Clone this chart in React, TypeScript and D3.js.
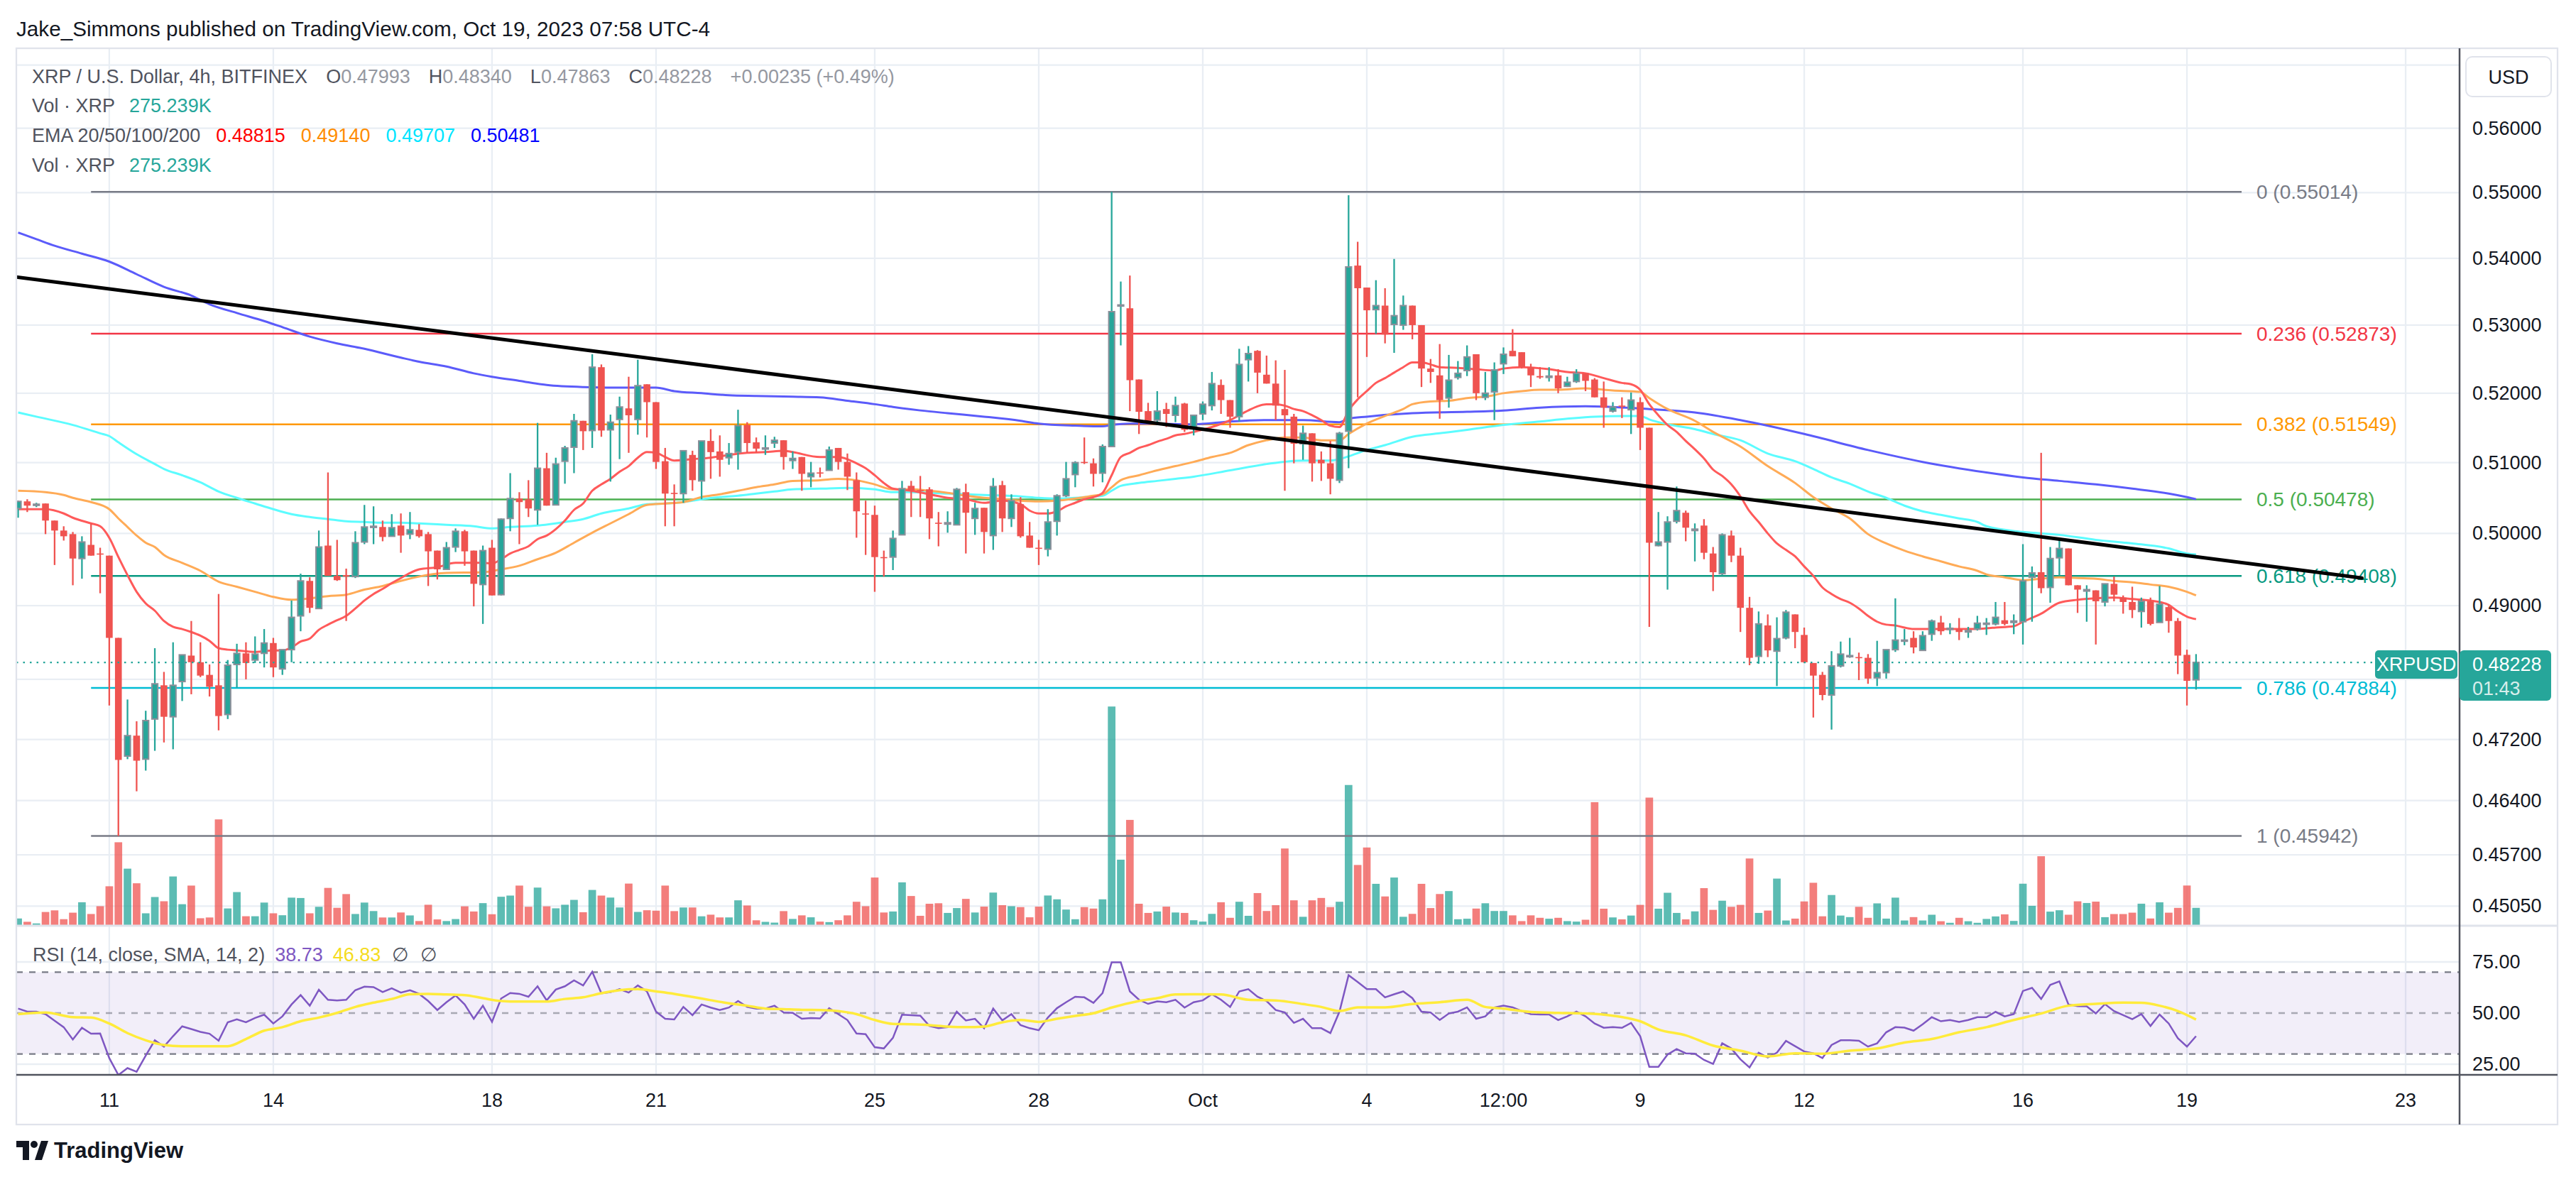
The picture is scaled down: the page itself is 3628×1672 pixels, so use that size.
import * as d3 from 'd3';
import React, { useEffect, useRef } from 'react';

// 4h bars. Bar index 0 = Sep 11 2023 00:00, the first visible bar is index -10.
const firstBar = -10;

const opens = [
  0.5035, 0.5045, 0.504, 0.5042, 0.5018, 0.5004, 0.4999, 0.4965, 0.4984, 0.4972,
  0.4969, 0.4856, 0.4698, 0.4725, 0.4694, 0.4747, 0.4792, 0.475, 0.4797, 0.4832,
  0.4823, 0.4806, 0.4792, 0.4753, 0.482, 0.4835, 0.4826, 0.4835, 0.4849, 0.4814,
  0.484, 0.4886, 0.4934, 0.4896, 0.4983, 0.4941, 0.4942, 0.494, 0.4988, 0.5009,
  0.5009, 0.4996, 0.5011, 0.4999, 0.5005, 0.4999, 0.4976, 0.495, 0.4981, 0.5003,
  0.4976, 0.4929, 0.498, 0.4915, 0.5021, 0.5049, 0.5048, 0.5033, 0.5092, 0.504,
  0.5102, 0.5122, 0.516, 0.5146, 0.5238, 0.5147, 0.5162, 0.5178, 0.5162, 0.5213,
  0.5187, 0.5102, 0.5057, 0.5056, 0.5111, 0.5074, 0.5131, 0.5116, 0.5107, 0.5115,
  0.5154, 0.5129, 0.512, 0.5128, 0.5132, 0.5103, 0.5108, 0.508, 0.5086, 0.5089,
  0.5121, 0.5101, 0.5075, 0.5028, 0.5026, 0.4967, 0.4967, 0.4998, 0.5067, 0.5061,
  0.5062, 0.5015, 0.5013, 0.5012, 0.5058, 0.5021, 0.5036, 0.4997, 0.5068, 0.5021,
  0.5041, 0.4997, 0.498, 0.4978, 0.5017, 0.5053, 0.5083, 0.5101, 0.5099, 0.5085,
  0.5123, 0.5329, 0.5325, 0.522, 0.5174, 0.5161, 0.5177, 0.5168, 0.5185, 0.5149,
  0.517, 0.5182, 0.5212, 0.519, 0.5166, 0.5249, 0.5262, 0.5227, 0.5214, 0.5177,
  0.5166, 0.5127, 0.5142, 0.5104, 0.5099, 0.5075, 0.5145, 0.5389, 0.5356, 0.5323,
  0.5329, 0.5301, 0.53, 0.5329, 0.53, 0.5236, 0.5226, 0.5193, 0.5223, 0.5233,
  0.5257, 0.5194, 0.5202, 0.5243, 0.5262, 0.526, 0.5238, 0.5225, 0.5223, 0.5226,
  0.521, 0.5217, 0.5229, 0.522, 0.5194, 0.5174, 0.5182, 0.5176, 0.5187, 0.515,
  0.4983, 0.4988, 0.5017, 0.5029, 0.5004, 0.5011, 0.4972, 0.4944, 0.4997, 0.4969,
  0.4897, 0.4831, 0.4873, 0.4838, 0.4856, 0.4888, 0.486, 0.4822, 0.4806, 0.4779,
  0.4818, 0.4831, 0.483, 0.4829, 0.4802, 0.4809, 0.484, 0.4852, 0.4856, 0.4839,
  0.4861, 0.4877, 0.4868, 0.4868, 0.4864, 0.4868, 0.4875, 0.4875, 0.488, 0.4877,
  0.4878, 0.4939, 0.4946, 0.4925, 0.4966, 0.4979, 0.4928, 0.492, 0.4921, 0.4905,
  0.493, 0.4911, 0.4905, 0.4892, 0.4906, 0.4877, 0.4898, 0.4879, 0.4833, 0.47993,
];

const highs = [
  0.5046, 0.5048, 0.5043, 0.5042, 0.5018, 0.501, 0.5002, 0.4996, 0.5014, 0.498,
  0.4969, 0.4856, 0.4773, 0.4744, 0.4758, 0.4842, 0.481, 0.485, 0.4833, 0.4879,
  0.485, 0.482, 0.4916, 0.4826, 0.4848, 0.485, 0.4858, 0.4868, 0.4856, 0.484,
  0.4907, 0.4944, 0.4939, 0.5004, 0.5086, 0.4991, 0.4951, 0.5003, 0.504, 0.5038,
  0.5018, 0.5027, 0.5028, 0.503, 0.5013, 0.5002, 0.4976, 0.4988, 0.5007, 0.5005,
  0.4976, 0.4983, 0.4991, 0.5021, 0.5085, 0.5058, 0.5075, 0.5157, 0.5114, 0.5107,
  0.5124, 0.517, 0.516, 0.5257, 0.5242, 0.5169, 0.5195, 0.5224, 0.5249, 0.5213,
  0.5187, 0.5121, 0.5069, 0.5117, 0.5117, 0.5131, 0.5148, 0.5139, 0.5128, 0.5176,
  0.5158, 0.5136, 0.5139, 0.5137, 0.5132, 0.5116, 0.5108, 0.5101, 0.5093, 0.5123,
  0.5121, 0.5113, 0.5086, 0.5046, 0.5039, 0.4976, 0.5004, 0.5074, 0.5074, 0.5081,
  0.5065, 0.503, 0.5031, 0.5064, 0.507, 0.5043, 0.5036, 0.5078, 0.5074, 0.5055,
  0.5051, 0.5016, 0.4991, 0.5034, 0.5055, 0.5101, 0.5102, 0.5136, 0.5106, 0.5126,
  0.55014, 0.5365, 0.5374, 0.522, 0.5186, 0.5203, 0.5186, 0.5195, 0.5186, 0.5168,
  0.5188, 0.5231, 0.522, 0.519, 0.5265, 0.5269, 0.5263, 0.5255, 0.5248, 0.5234,
  0.517, 0.5153, 0.5142, 0.5116, 0.5131, 0.5144, 0.5496, 0.5425, 0.5356, 0.5367,
  0.5355, 0.5399, 0.5344, 0.5329, 0.53, 0.525, 0.5272, 0.5256, 0.5247, 0.527,
  0.5257, 0.5231, 0.5245, 0.5267, 0.5294, 0.526, 0.5243, 0.5238, 0.5238, 0.5235,
  0.5224, 0.5235, 0.5229, 0.5222, 0.5217, 0.5187, 0.5194, 0.5201, 0.5194, 0.515,
  0.503, 0.5024, 0.5066, 0.5032, 0.5014, 0.502, 0.4981, 0.5, 0.5004, 0.498,
  0.4912, 0.4892, 0.4888, 0.4884, 0.4894, 0.4888, 0.487, 0.4822, 0.481, 0.4838,
  0.4851, 0.4856, 0.4836, 0.4834, 0.4852, 0.484, 0.491, 0.4868, 0.4865, 0.4865,
  0.4881, 0.4886, 0.4876, 0.4883, 0.4871, 0.4886, 0.4883, 0.4905, 0.4905, 0.4888,
  0.4985, 0.4954, 0.5114, 0.4981, 0.4992, 0.4979, 0.4928, 0.4928, 0.4921, 0.493,
  0.494, 0.4914, 0.4926, 0.4911, 0.4911, 0.4927, 0.4902, 0.4883, 0.484, 0.4834,
];

const lows = [
  0.5022, 0.503, 0.5037, 0.4999, 0.4956, 0.499, 0.4928, 0.4937, 0.4969, 0.4917,
  0.4765, 0.45942, 0.4694, 0.4652, 0.4679, 0.4705, 0.4716, 0.4707, 0.4771, 0.478,
  0.4803, 0.4777, 0.4732, 0.4747, 0.4789, 0.48, 0.4822, 0.4816, 0.4803, 0.4806,
  0.4823, 0.4865, 0.489, 0.4896, 0.4941, 0.4934, 0.4879, 0.4938, 0.4985, 0.4985,
  0.4989, 0.4996, 0.4973, 0.4992, 0.4994, 0.4927, 0.4936, 0.495, 0.4974, 0.4955,
  0.4899, 0.4875, 0.4914, 0.4914, 0.5003, 0.4985, 0.5023, 0.5012, 0.5039, 0.504,
  0.507, 0.5085, 0.5118, 0.5121, 0.5137, 0.5073, 0.5105, 0.5114, 0.514, 0.5136,
  0.5091, 0.501, 0.501, 0.5043, 0.506, 0.5048, 0.5077, 0.508, 0.5097, 0.509,
  0.5114, 0.5114, 0.5111, 0.5121, 0.509, 0.5091, 0.506, 0.5065, 0.5079, 0.5089,
  0.509, 0.5061, 0.4994, 0.497, 0.4919, 0.494, 0.4949, 0.4998, 0.5023, 0.5023,
  0.4992, 0.4982, 0.5001, 0.5012, 0.4972, 0.4998, 0.4972, 0.4977, 0.5002, 0.5009,
  0.4994, 0.498, 0.4956, 0.4968, 0.4997, 0.5051, 0.5065, 0.5098, 0.5066, 0.5072,
  0.5123, 0.527, 0.5174, 0.5141, 0.5157, 0.5154, 0.5151, 0.5158, 0.5144, 0.5139,
  0.5161, 0.5175, 0.517, 0.515, 0.5159, 0.5217, 0.52, 0.5214, 0.5161, 0.506,
  0.5099, 0.5104, 0.5073, 0.5074, 0.5055, 0.5071, 0.5092, 0.5194, 0.5253, 0.5287,
  0.5273, 0.5259, 0.5293, 0.5279, 0.5209, 0.5215, 0.5163, 0.5179, 0.522, 0.5225,
  0.519, 0.519, 0.5161, 0.5228, 0.5254, 0.5236, 0.5209, 0.5221, 0.5217, 0.52,
  0.5209, 0.5215, 0.5203, 0.5194, 0.515, 0.5172, 0.5164, 0.5141, 0.5118, 0.4871,
  0.4982, 0.4922, 0.5014, 0.4989, 0.4961, 0.4964, 0.492, 0.4941, 0.496, 0.4864,
  0.4819, 0.4821, 0.483, 0.4791, 0.4854, 0.4842, 0.4822, 0.4749, 0.4772, 0.4733,
  0.4816, 0.4829, 0.4799, 0.4794, 0.4791, 0.4801, 0.4837, 0.4846, 0.4835, 0.4839,
  0.4852, 0.486, 0.4861, 0.4853, 0.4856, 0.4866, 0.486, 0.4873, 0.4873, 0.4861,
  0.4847, 0.4878, 0.4917, 0.4904, 0.4941, 0.4928, 0.489, 0.4878, 0.4847, 0.4899,
  0.4906, 0.4889, 0.4883, 0.487, 0.4873, 0.4877, 0.4863, 0.4807, 0.4765, 0.47863,
];

const closes = [
  0.5045, 0.5039, 0.5041, 0.5018, 0.5004, 0.4996, 0.4965, 0.4988, 0.4969, 0.4971,
  0.4856, 0.4693, 0.4725, 0.4692, 0.4745, 0.4794, 0.475, 0.4792, 0.4833, 0.4823,
  0.4805, 0.479, 0.4751, 0.4819, 0.4835, 0.4822, 0.4834, 0.4849, 0.4816, 0.484,
  0.4884, 0.4934, 0.4897, 0.4981, 0.4941, 0.4935, 0.494, 0.4987, 0.5009, 0.501,
  0.4995, 0.5008, 0.4997, 0.5005, 0.4996, 0.4975, 0.495, 0.498, 0.5003, 0.4975,
  0.493, 0.4976, 0.4914, 0.502, 0.5049, 0.5044, 0.5035, 0.5092, 0.5039, 0.5098,
  0.5121, 0.516, 0.5145, 0.5238, 0.5146, 0.5158, 0.518, 0.5168, 0.5211, 0.5187,
  0.5101, 0.5056, 0.5056, 0.5117, 0.5075, 0.5131, 0.5115, 0.5104, 0.5113, 0.5153,
  0.5128, 0.512, 0.5121, 0.5132, 0.5108, 0.5106, 0.5084, 0.5085, 0.5085, 0.5118,
  0.5101, 0.508, 0.5031, 0.5027, 0.4967, 0.4966, 0.4993, 0.5063, 0.506, 0.506,
  0.5021, 0.5014, 0.5015, 0.5062, 0.5029, 0.5035, 0.5002, 0.5066, 0.5021, 0.5046,
  0.4996, 0.498, 0.4979, 0.5016, 0.5053, 0.5077, 0.51, 0.51, 0.5084, 0.5123,
  0.532, 0.533, 0.5219, 0.5173, 0.516, 0.5174, 0.517, 0.5182, 0.5147, 0.5168,
  0.5184, 0.5214, 0.519, 0.5166, 0.5242, 0.5258, 0.523, 0.5214, 0.5182, 0.5168,
  0.5127, 0.5142, 0.5099, 0.5099, 0.5077, 0.5142, 0.5387, 0.5355, 0.5322, 0.5329,
  0.5286, 0.5314, 0.5329, 0.53, 0.5236, 0.5231, 0.519, 0.5219, 0.5229, 0.5253,
  0.52, 0.52, 0.5234, 0.5257, 0.5254, 0.5238, 0.5226, 0.5223, 0.5225, 0.5207,
  0.5216, 0.5229, 0.5218, 0.5194, 0.5179, 0.518, 0.5181, 0.519, 0.515, 0.4987,
  0.4988, 0.5016, 0.5032, 0.5008, 0.5006, 0.4973, 0.4946, 0.4998, 0.4969, 0.4897,
  0.4829, 0.4875, 0.4839, 0.4855, 0.4891, 0.4864, 0.4823, 0.4805, 0.4779, 0.4818,
  0.4834, 0.4832, 0.4829, 0.4801, 0.4809, 0.484, 0.4853, 0.4853, 0.4843, 0.4859,
  0.4879, 0.4865, 0.4869, 0.4864, 0.4866, 0.4876, 0.4876, 0.4884, 0.4875, 0.4879,
  0.4934, 0.4945, 0.4924, 0.4965, 0.4979, 0.4928, 0.4922, 0.4922, 0.4906, 0.493,
  0.4915, 0.4905, 0.4894, 0.4906, 0.4875, 0.4902, 0.4879, 0.4832, 0.4798, 0.48228,
];

// volume in thousands of XRP
const volumes = [
  105, 52, 26, 209, 235, 94, 198, 365, 177, 302,
  621, 1326, 903, 669, 188, 449, 381, 778, 334, 632,
  109, 121, 1692, 266, 528, 141, 141, 360, 188, 157,
  439, 433, 188, 292, 595, 276, 496, 177, 360, 224,
  121, 121, 201, 154, 64, 325, 90, 64, 96, 300,
  217, 351, 173, 453, 472, 632, 293, 600, 300, 268,
  325, 403, 205, 562, 472, 440, 281, 664, 210, 237,
  230, 632, 223, 281, 281, 140, 166, 122, 122, 396,
  313, 76, 51, 39, 223, 98, 155, 124, 55, 47,
  77, 155, 373, 302, 761, 201, 217, 684, 465, 148,
  341, 349, 194, 272, 419, 201, 295, 520, 318, 302,
  287, 124, 295, 473, 412, 248, 93, 287, 264, 412,
  3500, 1047, 1684, 341, 194, 217, 295, 201, 194, 77,
  55, 179, 365, 116, 373, 148, 512, 225, 318, 1226,
  396, 132, 396, 434, 287, 373, 2243, 962, 1242, 660,
  458, 761, 132, 179, 660, 272, 497, 544, 93, 101,
  264, 349, 225, 225, 155, 63, 155, 116, 101, 116,
  63, 55, 85, 1968, 262, 122, 91, 152, 323, 2041,
  262, 517, 194, 91, 219, 591, 243, 390, 292, 323,
  1066, 194, 232, 744, 73, 103, 378, 677, 140, 481,
  152, 127, 292, 116, 347, 103, 439, 73, 127, 73,
  165, 61, 36, 116, 61, 36, 98, 138, 171, 66,
  662, 308, 1102, 215, 237, 165, 380, 353, 375, 126,
  176, 176, 198, 342, 105, 364, 198, 275, 633, 275.239,
];

const rsi = [
  52.2, 50.7, 50.7, 49.5, 46.3, 43.1, 37.1, 42.8, 39.9, 40.0,
  28.0, 19.7, 23.1, 21.3, 29.2, 36.7, 33.6, 38.7, 43.5, 42.2,
  40.8, 39.9, 36.5, 45.5, 46.9, 45.5, 47.6, 49.2, 44.9, 48.4,
  54.2, 58.8, 53.6, 61.4, 56.5, 56.2, 56.5, 61.2, 62.9, 62.7,
  60.3, 62.1, 60.0, 61.2, 59.4, 55.9, 51.5, 55.3, 58.6, 54.2,
  47.2, 53.6, 45.7, 57.1, 59.8, 59.4, 58.0, 63.1, 56.2, 61.5,
  63.1, 66.0, 63.5, 70.2, 59.7, 60.2, 61.7, 60.0, 63.5, 60.6,
  50.7, 47.2, 46.9, 53.0, 49.0, 54.2, 52.7, 51.5, 52.7, 55.9,
  53.0, 52.2, 52.2, 53.6, 50.3, 50.1, 47.2, 47.6, 47.4, 52.4,
  49.5, 46.6, 40.0, 39.7, 33.3, 32.7, 37.9, 49.2, 49.0, 48.7,
  43.7, 42.6, 43.1, 50.7, 46.4, 47.2, 42.6, 52.2, 46.4, 49.5,
  44.1, 42.6, 41.6, 47.8, 52.4, 55.3, 58.0, 57.7, 55.0, 59.8,
  74.8, 74.8, 60.6, 56.5, 54.5, 55.7, 55.3, 56.5, 52.7, 55.3,
  56.2, 59.2, 56.5, 53.0, 60.6, 61.7, 58.0, 55.9, 51.5, 50.3,
  45.2, 47.2, 42.6, 42.6, 40.2, 50.7, 68.5, 65.2, 61.7, 61.7,
  57.7, 59.2, 60.6, 57.3, 50.7, 50.3, 46.6, 49.8, 50.7, 52.8,
  47.2, 48.4, 52.7, 53.6, 52.8, 51.0, 49.5, 49.3, 49.3, 46.6,
  48.4, 50.7, 48.4, 44.9, 42.8, 43.1, 42.8, 45.2, 38.7, 23.7,
  23.7, 29.7, 32.4, 30.3, 30.1, 27.1, 25.1, 35.2, 32.7, 27.4,
  23.4, 30.6, 28.3, 30.6, 36.4, 33.8, 31.2, 30.3, 28.0, 34.4,
  36.7, 36.7, 36.5, 33.6, 35.2, 40.6, 43.1, 42.9, 41.4, 44.5,
  48.0, 46.0, 46.6, 45.7, 46.6, 48.0, 48.0, 50.6, 48.4, 49.5,
  60.8, 62.3, 56.9, 63.8, 65.5, 54.2, 53.4, 53.3, 49.8, 54.4,
  51.0, 49.0, 47.0, 49.5, 43.7, 49.3, 44.9, 37.7, 33.6, 38.73,
];

// [bar index, value]
const ema20 = [
  [-10, 0.5034], [-7, 0.5034], [-5, 0.5028], [-4, 0.5022], [-2, 0.5014], [-1, 0.501], [0, 0.4994],
  [1, 0.4967], [2, 0.4942], [3, 0.4919], [4, 0.4903], [5, 0.4893], [6, 0.4879], [7, 0.4871],
  [8, 0.4868], [9, 0.4864], [10, 0.4859], [11, 0.4852], [12, 0.4842], [13, 0.484], [14, 0.4839],
  [16, 0.4837], [18, 0.4839], [19, 0.4839], [20, 0.4843], [21, 0.4851], [22, 0.4855], [23, 0.4867],
  [24, 0.4874], [25, 0.488], [26, 0.4886], [27, 0.4896], [28, 0.4907], [29, 0.4916], [30, 0.4923],
  [31, 0.4931], [32, 0.4938], [33, 0.4945], [34, 0.495], [36, 0.4953], [38, 0.4959], [41, 0.4959],
  [42, 0.4958], [43, 0.4964], [44, 0.4972], [45, 0.4977], [46, 0.4982], [47, 0.4992], [48, 0.4997],
  [49, 0.5006], [50, 0.5018], [51, 0.5033], [52, 0.5042], [53, 0.506], [54, 0.5069], [55, 0.5077],
  [56, 0.5087], [57, 0.5095], [58, 0.5107], [59, 0.5115], [60, 0.5114], [61, 0.5108], [62, 0.5103],
  [64, 0.5105], [66, 0.5107], [68, 0.5111], [70, 0.5114], [72, 0.5115], [74, 0.5117], [75, 0.5115],
  [78, 0.5108], [80, 0.5108], [82, 0.5099], [83, 0.5092], [84, 0.5082], [85, 0.5071], [86, 0.5063],
  [88, 0.506], [90, 0.5055], [92, 0.505], [94, 0.5048], [96, 0.5043], [98, 0.5046], [100, 0.5041],
  [101, 0.5032], [102, 0.5028], [103, 0.5028], [104, 0.5031], [105, 0.5038], [106, 0.5043],
  [107, 0.5048], [108, 0.5051], [109, 0.5057], [110, 0.5082], [111, 0.5108], [112, 0.5114],
  [113, 0.5121], [114, 0.5125], [115, 0.513], [116, 0.5134], [117, 0.5139], [118, 0.5141],
  [119, 0.5144], [121, 0.5151], [123, 0.5161], [125, 0.5175], [126, 0.5181], [127, 0.5184],
  [128, 0.5184], [129, 0.5182], [130, 0.5177], [131, 0.5174], [132, 0.5168], [133, 0.5161],
  [134, 0.5153], [135, 0.5151], [136, 0.5175], [137, 0.5191], [138, 0.5203], [139, 0.5215],
  [140, 0.5222], [141, 0.523], [142, 0.5238], [143, 0.5245], [144, 0.5245], [145, 0.5242],
  [146, 0.5238], [148, 0.5237], [150, 0.5235], [152, 0.5233], [153, 0.5236], [155, 0.5238],
  [158, 0.5235], [160, 0.5231], [162, 0.5229], [164, 0.5222], [166, 0.5215], [167, 0.5213],
  [168, 0.5205], [169, 0.5184], [170, 0.5168], [171, 0.5154], [172, 0.5144], [173, 0.5131],
  [174, 0.5119], [175, 0.5106], [176, 0.509], [177, 0.5081], [178, 0.5069], [179, 0.5052],
  [180, 0.5031], [181, 0.5016], [182, 0.5], [183, 0.4986], [184, 0.4977], [185, 0.4968],
  [186, 0.4954], [187, 0.4941], [188, 0.4925], [189, 0.4916], [190, 0.4909], [191, 0.4904],
  [192, 0.4896], [193, 0.4886], [194, 0.4878], [195, 0.4874], [196, 0.4873], [197, 0.487],
  [198, 0.4868], [200, 0.4868], [204, 0.4868], [206, 0.4869], [207, 0.487], [209, 0.4872],
  [210, 0.4878], [212, 0.4889], [214, 0.4904], [216, 0.4908], [218, 0.491], [220, 0.4911],
  [222, 0.4909], [224, 0.4907], [225, 0.4905], [226, 0.4901], [227, 0.4892], [228, 0.4885],
  [229, 0.48815],
];

const ema50 = [
  [-10, 0.506], [-7, 0.5058], [-5, 0.5054], [-4, 0.505], [-2, 0.5044], [0, 0.5034], [1, 0.5021],
  [2, 0.5009], [3, 0.4997], [4, 0.4987], [5, 0.4981], [6, 0.497], [8, 0.4959], [10, 0.4948],
  [12, 0.4933], [14, 0.4926], [16, 0.4919], [18, 0.4912], [20, 0.4908], [22, 0.491], [24, 0.4913],
  [26, 0.4915], [28, 0.4922], [30, 0.4927], [32, 0.4934], [34, 0.494], [37, 0.4945], [41, 0.4946],
  [43, 0.495], [45, 0.4955], [47, 0.4964], [49, 0.4973], [51, 0.4987], [53, 0.5001], [55, 0.5014],
  [57, 0.5027], [59, 0.504], [61, 0.5042], [63, 0.5044], [65, 0.5051], [67, 0.5055], [69, 0.506],
  [71, 0.5065], [73, 0.5069], [75, 0.5074], [78, 0.5075], [80, 0.5077], [82, 0.5075], [84, 0.5069],
  [86, 0.5062], [88, 0.5062], [90, 0.506], [92, 0.5057], [94, 0.5053], [96, 0.505], [98, 0.5048],
  [100, 0.5046], [102, 0.5045], [104, 0.5046], [106, 0.5049], [108, 0.5053], [109, 0.5055],
  [110, 0.5065], [111, 0.5075], [113, 0.5082], [115, 0.5089], [117, 0.5095], [119, 0.5101],
  [121, 0.5108], [123, 0.5114], [125, 0.5125], [127, 0.5132], [129, 0.5136], [131, 0.5136],
  [133, 0.5132], [135, 0.5132], [136, 0.5141], [138, 0.5156], [140, 0.5167], [142, 0.5177],
  [143, 0.5184], [145, 0.5188], [147, 0.5189], [149, 0.5193], [151, 0.5195], [153, 0.52],
  [155, 0.5203], [157, 0.5205], [159, 0.5205], [162, 0.5207], [165, 0.5204], [168, 0.5202],
  [169, 0.5193], [171, 0.5177], [174, 0.516], [176, 0.5144], [179, 0.5123], [182, 0.5095],
  [185, 0.5071], [187, 0.5051], [189, 0.5035], [191, 0.5021], [193, 0.4999], [195, 0.4986],
  [197, 0.4976], [199, 0.4968], [201, 0.4961], [203, 0.4954], [205, 0.4948], [206, 0.4943],
  [208, 0.4939], [210, 0.4935], [212, 0.4937], [214, 0.4939], [216, 0.4938], [218, 0.4937],
  [220, 0.4934], [222, 0.4932], [224, 0.4929], [226, 0.4926], [228, 0.4919], [229, 0.4914],
];

const ema100 = [
  [-10, 0.5172], [-8, 0.5166], [-4, 0.5154], [-1, 0.5142], [0, 0.5138], [1, 0.5129], [3, 0.5112],
  [5, 0.5098], [6, 0.5091], [8, 0.5082], [10, 0.5072], [12, 0.5059], [14, 0.505], [16, 0.5042],
  [18, 0.5034], [20, 0.5027], [22, 0.5023], [24, 0.502], [26, 0.5017], [28, 0.5016], [30, 0.5015],
  [32, 0.5015], [34, 0.5014], [37, 0.5012], [40, 0.501], [42, 0.5007], [44, 0.5009], [47, 0.5011],
  [50, 0.5016], [52, 0.502], [54, 0.5028], [57, 0.5035], [59, 0.5041], [61, 0.5042], [63, 0.5044],
  [65, 0.5048], [67, 0.5051], [69, 0.5053], [71, 0.5056], [73, 0.5059], [75, 0.5062], [78, 0.5063],
  [81, 0.5064], [84, 0.5062], [86, 0.5058], [88, 0.5058], [92, 0.5056], [96, 0.5054], [100, 0.5052],
  [102, 0.505], [104, 0.5049], [106, 0.505], [108, 0.5052], [109, 0.5053], [110, 0.506], [111, 0.5067],
  [113, 0.5071], [115, 0.5074], [117, 0.5077], [119, 0.508], [123, 0.5089], [127, 0.5098],
  [131, 0.5103], [134, 0.5103], [135, 0.5105], [136, 0.5109], [138, 0.5118], [140, 0.5125],
  [143, 0.5137], [146, 0.5142], [149, 0.5147], [153, 0.5154], [157, 0.5159], [160, 0.5163],
  [163, 0.5166], [167, 0.5167], [168, 0.5167], [169, 0.5162], [171, 0.5155], [174, 0.5148],
  [176, 0.5141], [179, 0.5132], [182, 0.5113], [185, 0.5102], [187, 0.5091], [189, 0.5079],
  [191, 0.507], [193, 0.5059], [195, 0.505], [197, 0.5039], [199, 0.5031], [201, 0.5026],
  [203, 0.5021], [205, 0.5016], [206, 0.501], [210, 0.5002], [214, 0.4998], [218, 0.4991],
  [222, 0.4986], [226, 0.4979], [228, 0.4972], [229, 0.49707],
];

const ema200 = [
  [-10, 0.5439], [-8, 0.5429], [-6, 0.5419], [-3, 0.5407], [0, 0.5395], [3, 0.5376], [6, 0.5357],
  [9, 0.5344], [11, 0.5331], [14, 0.5318], [17, 0.5306], [19, 0.5297], [22, 0.5283], [25, 0.5273],
  [28, 0.5265], [32, 0.5252], [34, 0.5246], [37, 0.5239], [40, 0.5229], [42, 0.5224], [45, 0.5218],
  [48, 0.5212], [52, 0.5209], [57, 0.5208], [60, 0.5208], [62, 0.5203], [65, 0.52], [68, 0.5197],
  [71, 0.5196], [75, 0.5195], [78, 0.5194], [81, 0.5189], [84, 0.5184], [86, 0.518], [89, 0.5175],
  [92, 0.5171], [96, 0.5166], [100, 0.516], [102, 0.5156], [106, 0.5153], [109, 0.5152],
  [110, 0.5154], [112, 0.5156], [114, 0.5156], [119, 0.5155], [123, 0.5159], [127, 0.5161],
  [131, 0.5161], [135, 0.5158], [136, 0.5163], [138, 0.5166], [143, 0.5171], [149, 0.5173],
  [153, 0.5175], [157, 0.5179], [162, 0.5181], [169, 0.5177], [174, 0.5172], [179, 0.5161],
  [186, 0.5141], [193, 0.5118], [199, 0.5101], [206, 0.5086], [210, 0.5079], [214, 0.5074],
  [218, 0.5069], [222, 0.5063], [226, 0.5056], [228, 0.5051], [229, 0.50481],
];

const rsiSma = [
  [-10, 49.5], [-7, 50.3], [-4, 48.0], [-2, 47.8], [0, 44.9], [2, 40.2], [4, 36.7], [6, 34.4],
  [8, 33.8], [11, 33.8], [13, 33.8], [15, 37.3], [17, 41.4], [19, 43.1], [21, 46.0], [23, 47.8],
  [25, 50.1], [27, 53.0], [29, 55.1], [31, 56.9], [33, 59.2], [35, 59.4], [37, 59.1], [39, 58.8],
  [41, 57.3], [43, 55.9], [45, 55.6], [48, 55.6], [50, 56.9], [52, 57.7], [54, 59.7], [56, 61.2],
  [58, 61.7], [60, 60.6], [62, 59.4], [64, 57.9], [66, 56.3], [68, 54.8], [70, 53.6], [72, 52.2],
  [74, 51.9], [76, 51.6], [78, 51.5], [80, 51.0], [82, 49.5], [84, 46.6], [86, 44.7], [88, 44.5],
  [90, 44.1], [92, 43.4], [94, 43.1], [96, 43.4], [98, 45.5], [100, 46.6], [102, 45.7], [104, 47.2],
  [106, 48.6], [108, 49.9], [110, 52.7], [113, 55.9], [115, 57.3], [117, 59.1], [119, 59.2],
  [122, 59.1], [125, 56.5], [128, 56.2], [131, 54.4], [133, 53.0], [135, 51.0], [137, 52.8],
  [140, 52.8], [143, 54.4], [146, 55.3], [149, 56.5], [151, 53.0], [153, 52.2], [156, 50.5],
  [159, 50.1], [162, 49.8], [165, 48.7], [168, 46.0], [170, 42.0], [173, 39.1], [176, 34.1],
  [179, 31.6], [182, 28.8], [185, 30.3], [188, 30.1], [191, 31.6], [194, 32.7], [197, 35.6],
  [200, 37.3], [203, 40.6], [206, 43.1], [209, 46.6], [212, 49.8], [215, 53.6], [218, 54.5],
  [221, 55.1], [223, 55.0], [225, 53.6], [227, 51.0], [229, 46.83],
];

const fibRatios = ['0', '0.236', '0.382', '0.5', '0.618', '0.786', '1'];
const fibPrices = [0.55014, 0.52873, 0.51549, 0.50478, 0.49408, 0.47884, 0.45942];
const fibColors = ['#787b86', '#f23645', '#ff9800', '#4caf50', '#089981', '#00bcd4', '#787b86'];
const fibSpan = [-2, 234];

const trendLine = [[-10.3, 0.5372], [247.2, 0.4938]];

// 0.57 and 0.48 have grid lines, their labels sit under the USD box and the last price label
const priceTicks = [0.57, 0.56, 0.55, 0.54, 0.53, 0.52, 0.51, 0.5, 0.49, 0.48, 0.472, 0.464, 0.457, 0.4505];
const priceLabels = [0.56, 0.55, 0.54, 0.53, 0.52, 0.51, 0.5, 0.49, 0.472, 0.464, 0.457, 0.4505];
const rsiTicks = [75, 50, 25];
const timeTicks: [string, number][] = [
  ['11', 0], ['14', 18], ['18', 42], ['21', 60], ['25', 84], ['28', 102], ['Oct', 120],
  ['4', 138], ['12:00', 153], ['9', 168], ['12', 186], ['16', 210], ['19', 228], ['23', 252],
];

const lastPrice = 0.48228;
const lastVolume = '275.239K';
const legendOhlc: [string, string][] = [['O', '0.47993'], ['H', '0.48340'], ['L', '0.47863'], ['C', '0.48228']];
const emaLegend: [string, string][] = [['0.48815', '#ff0000'], ['0.49140', '#ff8c00'], ['0.49707', '#00e5ff'], ['0.50481', '#0000ff']];

const W = 3628;
const H = 1672;
const FONT = "'Liberation Sans', Arial, sans-serif";
const UP = '#26a69a';
const DOWN = '#ef5350';
const GRID = '#e9eef4';

export default function App() {
  const ref = useRef<SVGSVGElement>(null);

  useEffect(() => {
    drawChart();
  }, []);

  function drawChart() {
    const svg = d3.select(ref.current);
    svg.selectAll('*').remove();

    const left = 23;
    const right = 3464;
    const top = 68;
    const mainBottom = 1304;
    const rsiBottom = 1514;
    const bottom = 1584;
    const axisRight = 3602;

    const x = d3.scaleLinear().domain([0, 228]).range([153.9, 3080.05]);
    const y = d3.scaleLog().domain([0.4505, 0.56]).range([1276.3, 180.7]);
    const yVol = d3.scaleLinear().domain([0, 3500]).range([1303, 995.2]);
    const yRsi = d3.scaleLinear().domain([25, 75]).range([1499, 1355]);

    svg.append('rect').attr('width', W).attr('height', H).attr('fill', '#ffffff');

    const defs = svg.append('defs');
    defs.append('clipPath').attr('id', 'mainClip').append('rect')
      .attr('x', left).attr('y', top).attr('width', right - left).attr('height', mainBottom - top);
    defs.append('clipPath').attr('id', 'rsiClip').append('rect')
      .attr('x', left).attr('y', mainBottom).attr('width', right - left).attr('height', rsiBottom - mainBottom);

    // grid
    const grid = svg.append('g').attr('stroke', GRID).attr('stroke-width', 2.3);
    timeTicks.forEach(([, i]) => {
      grid.append('line').attr('x1', x(i)).attr('x2', x(i)).attr('y1', top).attr('y2', rsiBottom);
    });
    const hgrid = grid.append('g').attr('clip-path', 'url(#mainClip)');
    priceTicks.forEach((p) => {
      hgrid.append('line').attr('x1', left).attr('x2', right).attr('y1', y(p)).attr('y2', y(p));
    });
    [75, 25].forEach((v) => {
      grid.append('line').attr('x1', left).attr('x2', right).attr('y1', yRsi(v)).attr('y2', yRsi(v));
    });

    // RSI band
    svg.append('rect')
      .attr('x', left).attr('width', right - left)
      .attr('y', yRsi(70)).attr('height', yRsi(30) - yRsi(70))
      .attr('fill', 'rgba(126,87,194,0.1)');
    [70, 50, 30].forEach((v) => {
      svg.append('line')
        .attr('x1', left).attr('x2', right).attr('y1', yRsi(v)).attr('y2', yRsi(v))
        .attr('stroke', '#787b86').attr('stroke-width', 2.3)
        .attr('stroke-dasharray', '9 9')
        .attr('opacity', v === 50 ? 0.6 : 1);
    });

    const main = svg.append('g').attr('clip-path', 'url(#mainClip)');

    // volume
    const bars = d3.range(opens.length);
    main.append('g').selectAll('rect').data(bars).join('rect')
      .attr('x', (k) => x(firstBar + k) - 5.35)
      .attr('width', 10.7)
      .attr('y', (k) => yVol(volumes[k]))
      .attr('height', (k) => 1303 - yVol(volumes[k]))
      .attr('fill', (k) => (closes[k] >= opens[k] ? 'rgba(38,166,154,0.75)' : 'rgba(239,83,80,0.75)'));

    // fib levels
    fibPrices.forEach((p, k) => {
      main.append('line')
        .attr('x1', x(fibSpan[0])).attr('x2', x(fibSpan[1]))
        .attr('y1', y(p)).attr('y2', y(p))
        .attr('stroke', fibColors[k]).attr('stroke-width', 2.5);
      main.append('text')
        .attr('x', 3178).attr('y', y(p))
        .attr('dominant-baseline', 'central')
        .attr('font-family', FONT).attr('font-size', 28)
        .attr('fill', fibColors[k])
        .text(`${fibRatios[k]} (${p.toFixed(5)})`);
    });

    // EMAs
    const emaLine = d3.line<number[]>()
      .x((d) => x(d[0]))
      .y((d) => y(d[1]))
      .curve(d3.curveMonotoneX);
    const emas: [number[][], string][] = [
      [ema200, '#5b5bfa'],
      [ema100, '#5cfcff'],
      [ema50, '#ffab57'],
      [ema20, '#ff5a5a'],
    ];
    emas.forEach(([data, color]) => {
      main.append('path').datum(data)
        .attr('fill', 'none').attr('stroke', color).attr('stroke-width', 3)
        .attr('d', emaLine);
    });

    // candles
    const candles = main.append('g');
    bars.forEach((k) => {
      const cx = x(firstBar + k);
      const up = closes[k] >= opens[k];
      const color = up ? UP : DOWN;
      candles.append('line')
        .attr('x1', cx).attr('x2', cx)
        .attr('y1', y(highs[k])).attr('y2', y(lows[k]))
        .attr('stroke', color).attr('stroke-width', 2.3);
      const yTop = y(Math.max(opens[k], closes[k]));
      const yBot = y(Math.min(opens[k], closes[k]));
      const h = Math.max(yBot - yTop, 1.6);
      if (up) {
        candles.append('rect')
          .attr('x', cx - 4.1).attr('width', 8.2)
          .attr('y', yTop).attr('height', h)
          .attr('fill', UP).attr('stroke', '#8a8f99').attr('stroke-width', 2);
      } else {
        candles.append('rect')
          .attr('x', cx - 4.8).attr('width', 9.6)
          .attr('y', yTop).attr('height', h)
          .attr('fill', DOWN);
      }
    });

    // trend line
    main.append('line')
      .attr('x1', x(trendLine[0][0])).attr('y1', y(trendLine[0][1]))
      .attr('x2', x(trendLine[1][0])).attr('y2', y(trendLine[1][1]))
      .attr('stroke', '#000000').attr('stroke-width', 5).attr('stroke-linecap', 'round');

    // last price line
    main.append('line')
      .attr('x1', left).attr('x2', 3345)
      .attr('y1', y(lastPrice)).attr('y2', y(lastPrice))
      .attr('stroke', UP).attr('stroke-width', 2.3).attr('stroke-dasharray', '2.5 7');

    // RSI
    const rsiG = svg.append('g').attr('clip-path', 'url(#rsiClip)');
    rsiG.append('path').datum(rsi)
      .attr('fill', 'none').attr('stroke', '#7e57c2').attr('stroke-width', 2.5)
      .attr('d', d3.line<number>().x((d, k) => x(firstBar + k)).y((d) => yRsi(d)));
    rsiG.append('path').datum(rsiSma)
      .attr('fill', 'none').attr('stroke', '#ffeb3b').attr('stroke-width', 3.5)
      .attr('d', d3.line<number[]>().x((d) => x(d[0])).y((d) => yRsi(d[1])).curve(d3.curveMonotoneX));

    // frame and axes
    svg.append('rect')
      .attr('x', left).attr('y', top).attr('width', axisRight - left).attr('height', bottom - top)
      .attr('fill', 'none').attr('stroke', '#e0e3eb').attr('stroke-width', 2.3);
    svg.append('line')
      .attr('x1', left).attr('x2', axisRight).attr('y1', mainBottom).attr('y2', mainBottom)
      .attr('stroke', '#e0e3eb').attr('stroke-width', 3);
    svg.append('line')
      .attr('x1', right).attr('x2', right).attr('y1', top).attr('y2', bottom)
      .attr('stroke', '#50535e').attr('stroke-width', 2.5);
    svg.append('line')
      .attr('x1', left).attr('x2', axisRight).attr('y1', rsiBottom).attr('y2', rsiBottom)
      .attr('stroke', '#50535e').attr('stroke-width', 2.5);

    const axisText = (g: any) => g.attr('font-family', FONT).attr('font-size', 27).attr('fill', '#131722');

    priceLabels.forEach((p) => {
      svg.append('text').call(axisText)
        .attr('x', 3482).attr('y', y(p)).attr('dominant-baseline', 'central')
        .text(p.toFixed(5));
    });
    rsiTicks.forEach((v) => {
      svg.append('text').call(axisText)
        .attr('x', 3482).attr('y', yRsi(v)).attr('dominant-baseline', 'central')
        .text(v.toFixed(2));
    });
    timeTicks.forEach(([label, i]) => {
      svg.append('text').call(axisText)
        .attr('x', x(i)).attr('y', 1550).attr('dominant-baseline', 'central')
        .attr('text-anchor', 'middle')
        .text(label);
    });

    // currency box
    svg.append('rect')
      .attr('x', 3473).attr('y', 80).attr('width', 120).attr('height', 56).attr('rx', 9)
      .attr('fill', '#ffffff').attr('stroke', '#e0e3eb').attr('stroke-width', 2);
    svg.append('text').call(axisText)
      .attr('x', 3533).attr('y', 109).attr('text-anchor', 'middle').attr('dominant-baseline', 'central')
      .text('USD');

    // last price labels
    const py = y(lastPrice);
    svg.append('rect')
      .attr('x', 3464).attr('y', py - 17).attr('width', 129).attr('height', 71).attr('rx', 6)
      .attr('fill', UP);
    svg.append('text').call(axisText)
      .attr('x', 3482).attr('y', py + 3).attr('dominant-baseline', 'central').attr('fill', '#ffffff')
      .text(lastPrice.toFixed(5));
    svg.append('text').call(axisText)
      .attr('x', 3482).attr('y', py + 37).attr('dominant-baseline', 'central').attr('fill', 'rgba(255,255,255,0.82)')
      .text('01:43');
    svg.append('rect')
      .attr('x', 3345).attr('y', py - 17).attr('width', 116).attr('height', 40).attr('rx', 5)
      .attr('fill', UP);
    svg.append('text').call(axisText)
      .attr('x', 3403).attr('y', py + 3).attr('text-anchor', 'middle').attr('dominant-baseline', 'central')
      .attr('fill', '#ffffff')
      .text('XRPUSD');

    // legend
    const legend = svg.append('g').attr('font-family', FONT).attr('font-size', 27);
    const row1 = legend.append('text').attr('x', 45).attr('y', 117);
    row1.append('tspan').attr('fill', '#50535e').text('XRP / U.S. Dollar, 4h, BITFINEX');
    legendOhlc.forEach(([k, v]) => {
      row1.append('tspan').attr('dx', 26).attr('fill', '#50535e').text(k);
      row1.append('tspan').attr('fill', '#9598a1').text(v);
    });
    row1.append('tspan').attr('dx', 26).attr('fill', '#9598a1').text('+0.00235 (+0.49%)');

    [158, 242].forEach((by) => {
      const t = legend.append('text').attr('x', 45).attr('y', by);
      t.append('tspan').attr('fill', '#50535e').text('Vol · XRP');
      t.append('tspan').attr('dx', 20).attr('fill', UP).text(lastVolume);
    });
    const row3 = legend.append('text').attr('x', 45).attr('y', 200);
    row3.append('tspan').attr('fill', '#50535e').text('EMA 20/50/100/200');
    emaLegend.forEach(([v, c]) => {
      row3.append('tspan').attr('dx', 22).attr('fill', c).text(v);
    });

    const rsiLegend = legend.append('text').attr('x', 46).attr('y', 1354);
    rsiLegend.append('tspan').attr('fill', '#50535e').text('RSI (14, close, SMA, 14, 2)');
    rsiLegend.append('tspan').attr('dx', 14).attr('fill', '#7e57c2').text('38.73');
    rsiLegend.append('tspan').attr('dx', 14).attr('fill', '#f5dc1f').text('46.83');
    rsiLegend.append('tspan').attr('dx', 16).attr('fill', '#50535e').text('∅');
    rsiLegend.append('tspan').attr('dx', 16).attr('fill', '#50535e').text('∅');

    // header
    svg.append('text')
      .attr('x', 23).attr('y', 51)
      .attr('font-family', FONT).attr('font-size', 29).attr('fill', '#131722')
      .attr('textLength', 977).attr('lengthAdjust', 'spacingAndGlyphs')
      .text('Jake_Simmons published on TradingView.com, Oct 19, 2023 07:58 UTC-4');

    // logo
    const logo = svg.append('g').attr('fill', '#131722');
    logo.append('path').attr('d', 'M23 1607 H41 V1634 H32 V1616 H23 Z');
    logo.append('circle').attr('cx', 48).attr('cy', 1612).attr('r', 5);
    logo.append('path').attr('d', 'M49 1634 L58 1607 H68 L59 1634 Z');
    logo.append('text')
      .attr('x', 76).attr('y', 1631)
      .attr('font-family', FONT).attr('font-size', 31).attr('font-weight', 700)
      .text('TradingView');
  }

  return (
    <svg
      ref={ref}
      width={W}
      height={H}
      style={{ position: 'absolute', left: 0, top: 0, display: 'block' }}
    />
  );
}
